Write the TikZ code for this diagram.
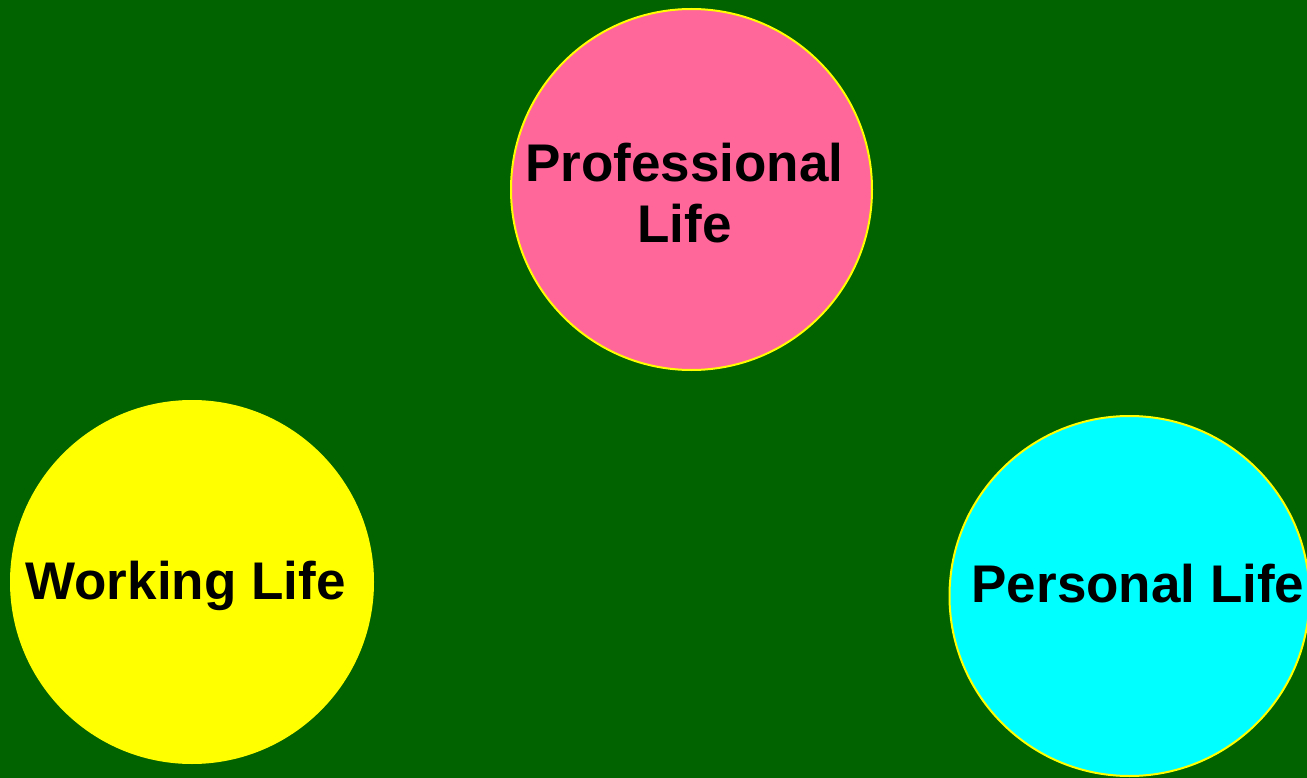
\documentclass[tikz,border=0pt]{standalone}
\usepackage{fontspec}
\setmainfont{Liberation Sans}
\usetikzlibrary{positioning}
\definecolor{bggreen}{rgb}{0,0.39,0}
\definecolor{lifepink}{rgb}{1,0.4,0.6}
\definecolor{lifeyellow}{rgb}{1,1,0}
\definecolor{lifecyan}{rgb}{0,1,1}

\begin{document}
\begin{tikzpicture}[x=1pt, y=-1pt, line width=2pt]

    \tikzset{
      lifecircle/.style={circle, inner sep=0pt, draw=lifeyellow},
      lifetext/.style={font=\fontsize{53}{61}\selectfont\bfseries, align=center, inner sep=0pt}
    }

    \fill [bggreen] (0,0) rectangle (1307,778);
    \useasboundingbox (0,0) rectangle (1307,778);

    % the three circles
    \node [lifecircle, fill=lifepink, minimum size=361pt]   (prof) at (691.5,189.5) {};
    \node [lifecircle, fill=lifeyellow, minimum size=362pt] (work) at (192,582) {};
    \node [lifecircle, fill=lifecyan, minimum size=360pt]   (pers) at (1129.5,596) {};

    % their labels
    \node [lifetext] (proftext) at ([xshift=-7pt, yshift=-3.5pt]prof.center) {Professional\\Life};
    \node [lifetext, anchor=base] (worktext) at ([xshift=-6.5pt, yshift=-17pt]work.center) {Working Life};
    \node [lifetext, anchor=base] (perstext) at ([xshift=8.5pt, yshift=-6pt]pers.center) {Personal Life};

\end{tikzpicture}
\end{document}
